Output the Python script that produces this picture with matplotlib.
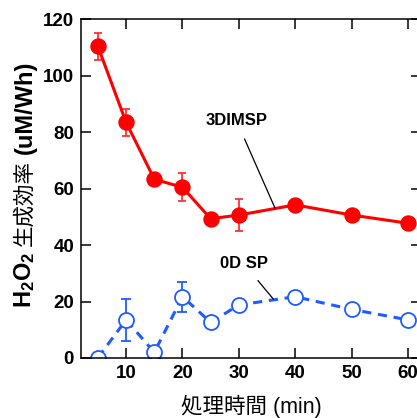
import numpy as np
import matplotlib
matplotlib.use('Agg')
import matplotlib.pyplot as plt

plt.rcParams['font.family'] = ['Liberation Sans', 'Noto Sans CJK JP']
plt.rcParams['font.weight'] = 'bold'
plt.rcParams['mathtext.fontset'] = 'custom'
plt.rcParams['mathtext.rm'] = 'Liberation Sans:bold'
plt.rcParams['mathtext.default'] = 'rm'

# data
time_min = [5, 10, 15, 20, 25, 30, 40, 50, 60]
eff_3d = [110.3, 83.4, 63.3, 60.4, 49.3, 50.6, 54.2, 50.6, 47.7]
err_3d = [4.8, 4.8, 0, 5.0, 0, 5.7, 0, 0, 0]
eff_0d = [0.1, 13.5, 2.0, 21.7, 12.6, 18.8, 21.7, 17.2, 13.5]
err_0d = [0, 7.4, 0, 5.3, 0, 0, 0, 0, 0]
xticks = [10, 20, 30, 40, 50, 60]
yticks = [0, 20, 40, 60, 80, 100, 120]

red = '#ff0000'
blue = '#1f5cff'

fig = plt.figure(figsize=(4.17, 4.18), dpi=100)
# right frame sits just past the image edge, as in the original crop
ax = fig.add_axes([81 / 417, 60 / 418, 340 / 417, 339 / 418])

ax.errorbar(time_min, eff_3d, yerr=err_3d, color=red, ecolor='#ff3333',
            lw=2.2, elinewidth=1.3, capsize=3.2, capthick=1.3,
            marker='o', ms=10.8, mfc=red, mec=red)
ax.errorbar(time_min, eff_0d, yerr=err_0d, color=blue, ecolor=blue,
            lw=2.2, ls=(0, (3, 2.2)), elinewidth=1.3, capsize=3.6, capthick=1.3,
            marker='o', ms=10.8, mfc='white', mec=blue, mew=1.3)

ax.set_xlim(2, 62.3)
ax.set_ylim(0, 120)
ax.set_xticks(xticks)
ax.set_yticks(yticks)
ax.tick_params(direction='in', length=7, width=1.1, top=True, right=True,
               labelsize=13.5, pad=5)
for s in ax.spines.values():
    s.set_linewidth(1.1)

ax.annotate('3DIMSP', xy=(36.4, 53.1), xytext=(29.6, 83.9), fontsize=12,
            fontweight='bold', ha='center', va='center',
            arrowprops=dict(arrowstyle='-', lw=0.9, color='black', shrinkA=6, shrinkB=0))
ax.annotate('0D SP', xy=(36.1, 20.9), xytext=(30.9, 33.3), fontsize=12,
            fontweight='bold', ha='center', va='center',
            arrowprops=dict(arrowstyle='-', lw=0.9, color='black', shrinkA=6, shrinkB=0))

ax.set_xlabel('処理時間 (min)', fontsize=15.5, labelpad=9)

# y label built from pieces: latin bold, kanji regular
fig.canvas.draw()
renderer = fig.canvas.get_renderer()
pieces = [('H$_2$O$_2$', ['Liberation Sans'], 'bold', 17),
          ('生成効率', ['Noto Sans CJK JP'], 'normal', 15.5),
          ('(uM/Wh)', ['Liberation Sans'], 'bold', 17)]
ypix = 418 - 308
xpix = 25
for txt, fam, wt, fs in pieces:
    t = fig.text(xpix / 417, ypix / 418, txt, rotation=90, ha='center', va='bottom',
                 family=fam, fontweight=wt, fontsize=fs)
    bb = t.get_window_extent(renderer)
    ypix = ypix + bb.height + 6

fig.savefig('out.png', dpi=100)
